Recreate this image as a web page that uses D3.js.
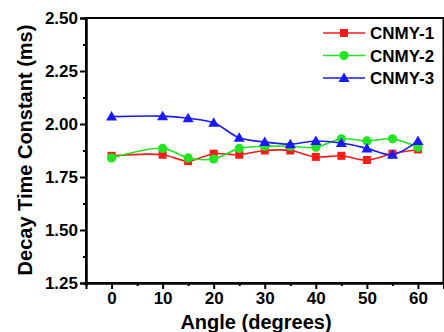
<!DOCTYPE html>
<meta charset="UTF-8">
<style>
body { margin: 0; background: #fff; }
.tick text { font: bold 17px Arial, "Liberation Sans", sans-serif; }
.title { font: bold 20px Arial, "Liberation Sans", sans-serif; }
.legend text { font: bold 17px Arial, "Liberation Sans", sans-serif; }
</style>
<body>
<script src="https://d3js.org/d3.v7.min.js"></script>
<script>

// angles (degrees)
var angles = [0, 10, 15, 20, 25, 30, 35, 40, 45, 50, 55, 60];

// decay time constant (ms)
var cnmy1 = [1.85, 1.855, 1.825, 1.86, 1.855, 1.875, 1.875, 1.845, 1.85, 1.83, 1.86, 1.88];
var cnmy2 = [1.84, 1.885, 1.84, 1.835, 1.885, 1.895, 1.895, 1.89, 1.93, 1.92, 1.93, 1.89];
var cnmy3 = [2.035, 2.037, 2.027, 2.006, 1.935, 1.915, 1.905, 1.92, 1.91, 1.885, 1.855, 1.92];

var seriesNames = ["CNMY-1", "CNMY-2", "CNMY-3"];
var xTicks = [0, 10, 20, 30, 40, 50, 60];
var yTicks = [1.25, 1.50, 1.75, 2.00, 2.25, 2.50];

var W = 444, H = 332;
var margin = {top: 18, right: 0.5, bottom: 49, left: 86};

var svg = d3.select("body").append("svg")
    .attr("width", W)
    .attr("height", H);

var x = d3.scaleLinear().domain([-5, 65]).range([margin.left, W - margin.right]);
var y = d3.scaleLinear().domain([1.25, 2.5]).range([H - margin.bottom, margin.top]);

var colors = ["#ff1a1a", "#22e622", "#1a1aff"];
var series = [cnmy1, cnmy2, cnmy3];

// frame
svg.append("rect")
    .attr("x", x(-5)).attr("y", y(2.5))
    .attr("width", x(65) - x(-5)).attr("height", y(1.25) - y(2.5))
    .attr("fill", "none").attr("stroke", "#000").attr("stroke-width", 2);

// axes (outward ticks)
svg.append("g")
    .attr("transform", "translate(0," + y(1.25) + ")")
    .call(d3.axisBottom(x).tickValues(xTicks).tickSize(6).tickPadding(3).tickFormat(d3.format("d")));
svg.append("g")
    .attr("transform", "translate(0," + y(1.25) + ")")
    .call(d3.axisBottom(x).tickValues(d3.range(5, 65, 10)).tickSize(3).tickFormat(""));

svg.append("g")
    .attr("transform", "translate(" + x(-5) + ",0)")
    .call(d3.axisLeft(y).tickValues(yTicks).tickSize(6).tickPadding(2).tickFormat(d3.format(".2f")));
svg.append("g")
    .attr("transform", "translate(" + x(-5) + ",0)")
    .call(d3.axisLeft(y).tickValues(d3.range(1.375, 2.5, 0.25)).tickSize(3).tickFormat(""));

svg.selectAll(".domain").attr("stroke-width", 2);
svg.selectAll(".tick line").attr("stroke-width", 2);
svg.selectAll(".tick text").attr("fill", "#000");

// axis titles
svg.append("text")
    .attr("class", "title")
    .attr("x", 256).attr("y", 329)
    .attr("text-anchor", "middle")
    .text("Angle (degrees)");

svg.append("text")
    .attr("class", "title")
    .attr("transform", "translate(32," + 150 + ") rotate(-90)")
    .attr("text-anchor", "middle")
    .text("Decay Time Constant (ms)");

var line = d3.line()
    .x(function(d, i) { return x(angles[i]); })
    .y(function(d) { return y(d); })
    .curve(d3.curveCatmullRom.alpha(0.5));

function marker(g, k, cx, cy, color) {
  if (k === 0) {
    g.append("rect").attr("x", cx - 4).attr("y", cy - 4).attr("width", 8).attr("height", 8).attr("fill", color);
  } else if (k === 1) {
    g.append("circle").attr("cx", cx).attr("cy", cy).attr("r", 4.6).attr("fill", color);
  } else {
    g.append("path")
        .attr("d", "M" + cx + "," + (cy - 5.5) + "L" + (cx + 5.5) + "," + (cy + 4) + "L" + (cx - 5.5) + "," + (cy + 4) + "Z")
        .attr("fill", color);
  }
}

series.forEach(function(vals, k) {
  svg.append("path")
      .datum(vals)
      .attr("fill", "none")
      .attr("stroke", colors[k])
      .attr("stroke-width", 1.6)
      .attr("d", line);
  var g = svg.append("g");
  vals.forEach(function(v, i) {
    marker(g, k, x(angles[i]), y(v), colors[k]);
  });
});

// legend
var legend = svg.append("g").attr("class", "legend");
seriesNames.forEach(function(name, k) {
  var ly = 33 + k * 22.5;
  legend.append("line")
      .attr("x1", 323).attr("x2", 365)
      .attr("y1", ly).attr("y2", ly)
      .attr("stroke", colors[k]).attr("stroke-width", 1.6);
  marker(legend, k, 344, ly, colors[k]);
  legend.append("text")
      .attr("x", 370).attr("y", ly + 6)
      .text(name);
});

</script>
</body>
